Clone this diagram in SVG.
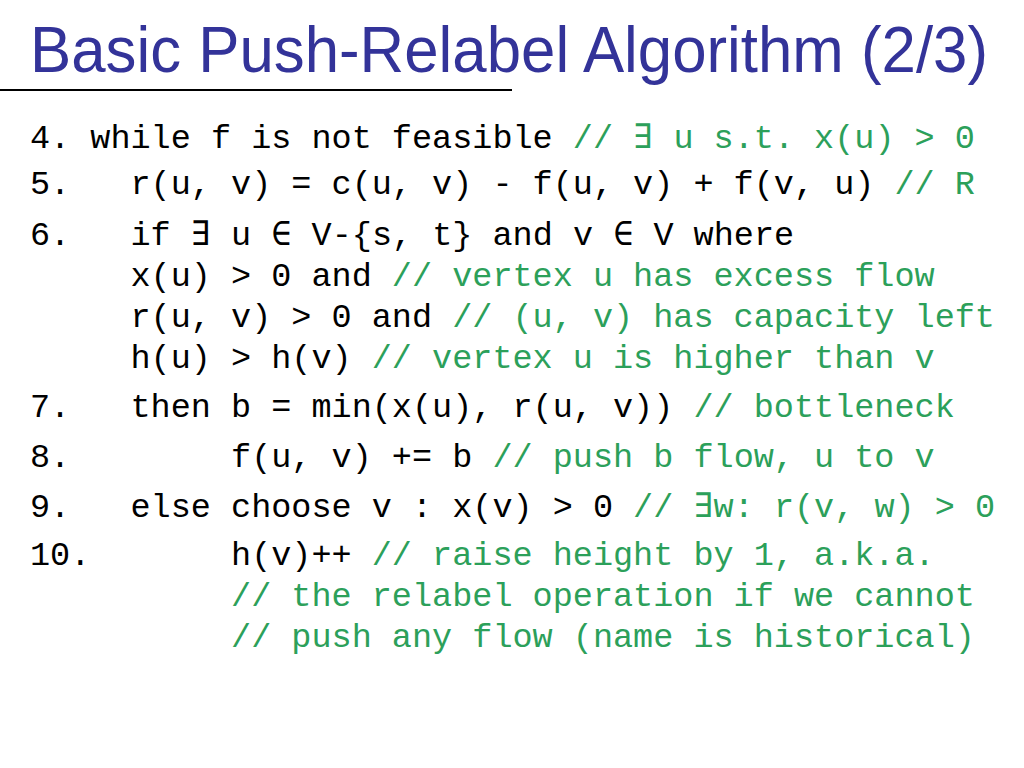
<svg xmlns="http://www.w3.org/2000/svg" width="1024" height="768" viewBox="0 0 1024 768">
<style>
.t{font-family:"Liberation Sans",Arial,sans-serif;font-size:64px;fill:#333399}
.c{font-family:"Liberation Mono","Courier New",monospace;font-size:33.5px;fill:#000;white-space:pre}
.g{fill:#2ca05a}
</style>
<rect width="1024" height="768" fill="#fff"/>
<text class="t" x="30" y="72" textLength="958" lengthAdjust="spacingAndGlyphs">Basic Push-Relabel Algorithm (2/3)</text>
<line x1="0" y1="90" x2="512" y2="90" stroke="#000" stroke-width="2"/>
<g xml:space="preserve">
<text class="c" x="30" y="148">4. while f is not feasible <tspan class="g">// ∃ u s.t. x(u) &gt; 0</tspan></text>
<text class="c" x="30" y="194">5.   r(u, v) = c(u, v) - f(u, v) + f(v, u) <tspan class="g">// R</tspan></text>
<text class="c" x="30" y="245">6.   if ∃ u ∈ V-{s, t} and v ∈ V where</text>
<text class="c" x="30" y="286">     x(u) &gt; 0 and <tspan class="g">// vertex u has excess flow</tspan></text>
<text class="c" x="30" y="327">     r(u, v) &gt; 0 and <tspan class="g">// (u, v) has capacity left</tspan></text>
<text class="c" x="30" y="368">     h(u) &gt; h(v) <tspan class="g">// vertex u is higher than v</tspan></text>
<text class="c" x="30" y="417">7.   then b = min(x(u), r(u, v)) <tspan class="g">// bottleneck</tspan></text>
<text class="c" x="30" y="467">8.        f(u, v) += b <tspan class="g">// push b flow, u to v</tspan></text>
<text class="c" x="30" y="517">9.   else choose v : x(v) &gt; 0 <tspan class="g">// ∃w: r(v, w) &gt; 0</tspan></text>
<text class="c" x="30" y="565">10.       h(v)++ <tspan class="g">// raise height by 1, a.k.a.</tspan></text>
<text class="c g" x="30" y="606">          // the relabel operation if we cannot</text>
<text class="c g" x="30" y="647">          // push any flow (name is historical)</text>
</g>
</svg>
